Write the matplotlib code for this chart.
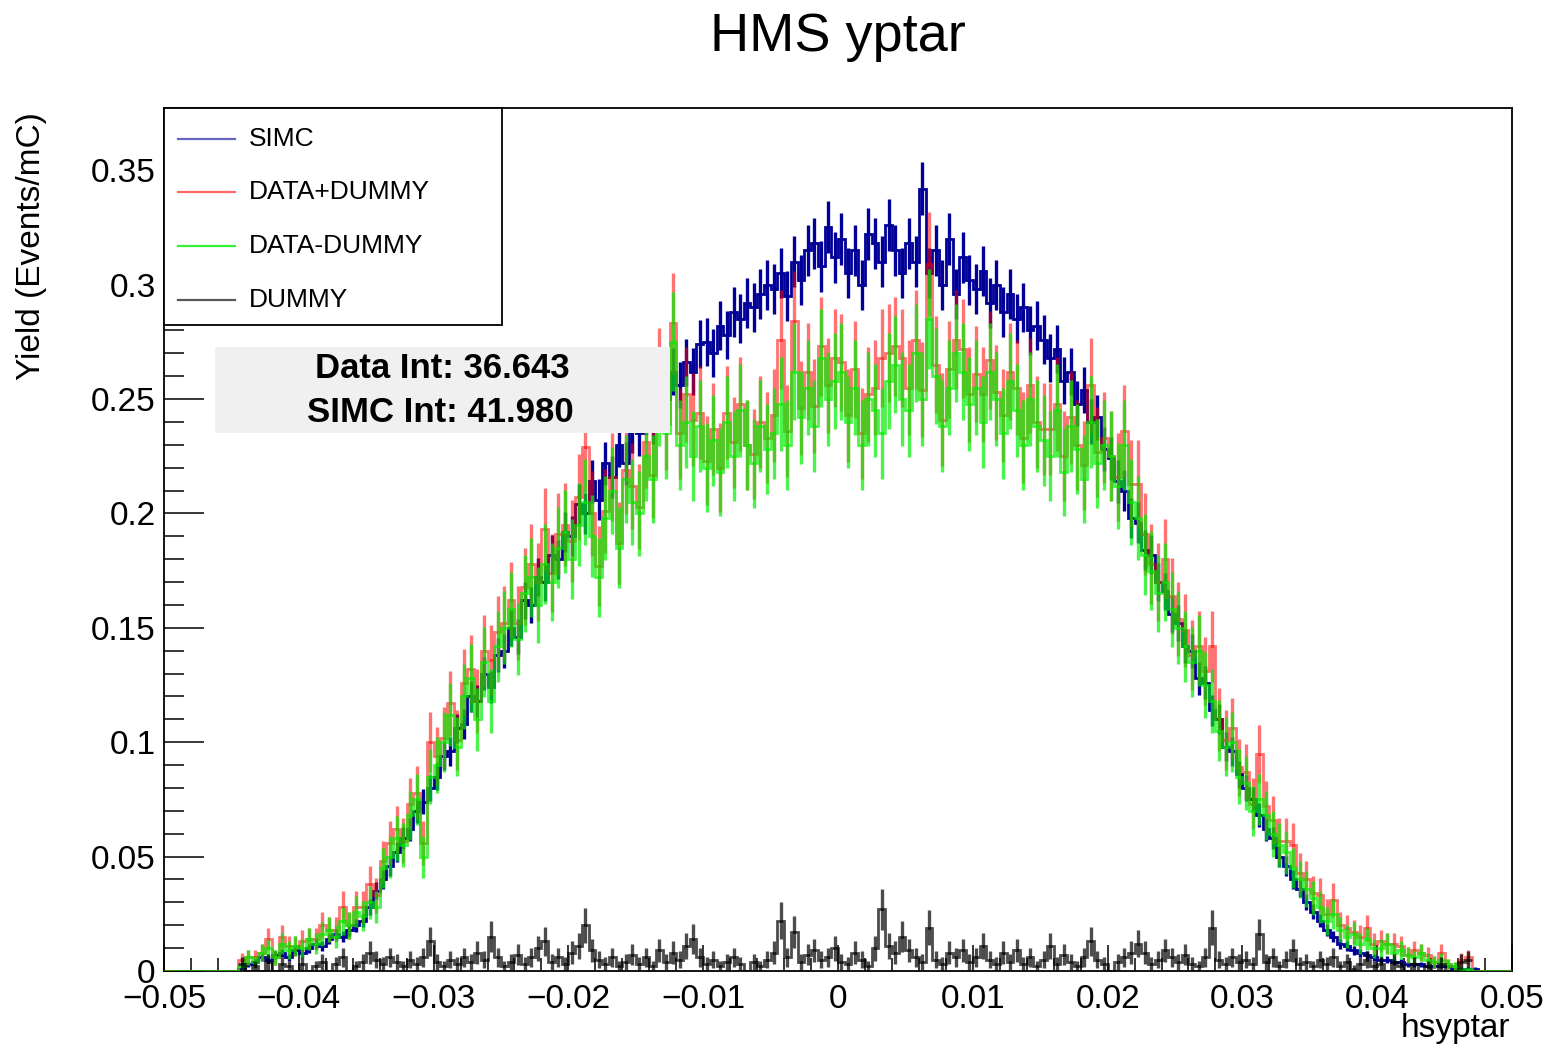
import numpy as np
import matplotlib
matplotlib.use("Agg")
import matplotlib.pyplot as plt
from matplotlib.patches import Rectangle
from matplotlib.lines import Line2D
from matplotlib.ticker import MultipleLocator

plt.rcParams['font.family'] = ['Liberation Sans', 'DejaVu Sans']

# ---------------- data ----------------
x_min, x_max, n_bins = -0.05, 0.05, 200

simc = [
    0, 0, 0, 0, 0, 0, 0, 0, 0, 0,
    0, 0.001, 0.003, 0.004, 0.006, 0.005, 0.007, 0.008, 0.006, 0.009,
    0.008, 0.010, 0.012, 0.011, 0.014, 0.016, 0.015, 0.018, 0.020, 0.022,
    0.028, 0.035, 0.040, 0.046, 0.052, 0.058, 0.062, 0.070, 0.074, 0.080,
    0.085, 0.094, 0.096, 0.106, 0.108, 0.120, 0.118, 0.130, 0.124, 0.138,
    0.140, 0.150, 0.146, 0.162, 0.160, 0.172, 0.170, 0.182, 0.180, 0.192,
    0.190, 0.204, 0.200, 0.214, 0.206, 0.222, 0.216, 0.230, 0.222, 0.236,
    0.235, 0.244, 0.240, 0.254, 0.250, 0.262, 0.256, 0.266, 0.262, 0.274,
    0.275, 0.270, 0.282, 0.278, 0.288, 0.285, 0.292, 0.290, 0.296, 0.300,
    0.298, 0.305, 0.295, 0.310, 0.302, 0.315, 0.318, 0.308, 0.325, 0.312,
    0.320, 0.305, 0.315, 0.300, 0.322, 0.318, 0.310, 0.326, 0.315, 0.305,
    0.318, 0.310, 0.342, 0.305, 0.315, 0.300, 0.320, 0.296, 0.312, 0.302,
    0.298, 0.306, 0.292, 0.300, 0.288, 0.296, 0.285, 0.290, 0.280, 0.282,
    0.276, 0.268, 0.272, 0.258, 0.262, 0.248, 0.254, 0.240, 0.242, 0.228,
    0.224, 0.214, 0.210, 0.198, 0.196, 0.184, 0.182, 0.170, 0.166, 0.156,
    0.152, 0.142, 0.140, 0.128, 0.126, 0.114, 0.110, 0.098, 0.096, 0.086,
    0.080, 0.075, 0.068, 0.062, 0.058, 0.050, 0.046, 0.040, 0.036, 0.030,
    0.026, 0.022, 0.018, 0.015, 0.012, 0.011, 0.009, 0.008, 0.007, 0.006,
    0.005, 0.005, 0.004, 0.004, 0.003, 0.003, 0.003, 0.002, 0.002, 0.002,
    0.002, 0.001, 0.001, 0.001, 0.001, 0, 0, 0, 0, 0,
]

data_plus_dummy = [
    0, 0, 0, 0, 0, 0, 0, 0, 0, 0,
    0, 0.005, 0.006, 0.006, 0.008, 0.014, 0.006, 0.015, 0.011, 0.011,
    0.013, 0.014, 0.014, 0.020, 0.018, 0.018, 0.028, 0.020, 0.028, 0.028,
    0.038, 0.033, 0.048, 0.056, 0.062, 0.057, 0.073, 0.078, 0.056, 0.100,
    0.094, 0.102, 0.117, 0.101, 0.126, 0.132, 0.118, 0.140, 0.136, 0.148,
    0.152, 0.162, 0.152, 0.168, 0.178, 0.170, 0.193, 0.174, 0.191, 0.195,
    0.188, 0.207, 0.229, 0.200, 0.177, 0.201, 0.216, 0.187, 0.219, 0.212,
    0.203, 0.231, 0.217, 0.260, 0.239, 0.283, 0.235, 0.252, 0.241, 0.244,
    0.223, 0.237, 0.220, 0.244, 0.231, 0.248, 0.230, 0.226, 0.240, 0.233,
    0.243, 0.276, 0.236, 0.284, 0.246, 0.262, 0.247, 0.273, 0.256, 0.268,
    0.266, 0.243, 0.263, 0.235, 0.252, 0.255, 0.268, 0.270, 0.273, 0.268,
    0.255, 0.276, 0.254, 0.309, 0.265, 0.241, 0.263, 0.276, 0.272, 0.252,
    0.261, 0.252, 0.267, 0.253, 0.243, 0.262, 0.255, 0.233, 0.256, 0.240,
    0.237, 0.237, 0.248, 0.225, 0.242, 0.230, 0.221, 0.256, 0.227, 0.233,
    0.225, 0.216, 0.236, 0.213, 0.213, 0.191, 0.178, 0.170, 0.180, 0.164,
    0.154, 0.149, 0.138, 0.142, 0.131, 0.142, 0.110, 0.101, 0.106, 0.089,
    0.087, 0.073, 0.095, 0.072, 0.066, 0.057, 0.057, 0.055, 0.043, 0.040,
    0.034, 0.033, 0.025, 0.031, 0.020, 0.019, 0.017, 0.015, 0.019, 0.012,
    0.013, 0.012, 0.012, 0.011, 0.007, 0.009, 0.008, 0.007, 0.004, 0.008,
    0.003, 0.002, 0.005, 0.006, 0, 0, 0, 0, 0, 0,
]

data_minus_dummy = [
    0, 0, 0, 0, 0, 0, 0, 0, 0, 0,
    0, 0.002, 0.006, 0.004, 0.008, 0.010, 0.006, 0.012, 0.009, 0.011,
    0.010, 0.014, 0.012, 0.016, 0.018, 0.015, 0.022, 0.020, 0.026, 0.024,
    0.030, 0.028, 0.045, 0.050, 0.058, 0.055, 0.068, 0.075, 0.050, 0.085,
    0.090, 0.100, 0.112, 0.098, 0.120, 0.128, 0.110, 0.135, 0.118, 0.142,
    0.150, 0.158, 0.145, 0.165, 0.172, 0.160, 0.178, 0.170, 0.185, 0.192,
    0.180, 0.195, 0.205, 0.190, 0.172, 0.198, 0.210, 0.185, 0.215, 0.205,
    0.200, 0.225, 0.215, 0.250, 0.235, 0.275, 0.230, 0.240, 0.225, 0.238,
    0.220, 0.232, 0.218, 0.240, 0.225, 0.245, 0.230, 0.222, 0.238, 0.228,
    0.235, 0.248, 0.230, 0.262, 0.242, 0.255, 0.238, 0.268, 0.250, 0.258,
    0.262, 0.240, 0.255, 0.230, 0.250, 0.245, 0.235, 0.258, 0.265, 0.250,
    0.245, 0.270, 0.250, 0.285, 0.260, 0.238, 0.255, 0.270, 0.262, 0.248,
    0.255, 0.240, 0.262, 0.250, 0.235, 0.258, 0.245, 0.230, 0.250, 0.238,
    0.232, 0.225, 0.245, 0.218, 0.238, 0.228, 0.215, 0.240, 0.222, 0.230,
    0.225, 0.212, 0.230, 0.205, 0.198, 0.182, 0.175, 0.165, 0.170, 0.158,
    0.150, 0.142, 0.135, 0.140, 0.125, 0.118, 0.105, 0.098, 0.100, 0.085,
    0.082, 0.070, 0.075, 0.068, 0.060, 0.055, 0.052, 0.045, 0.040, 0.036,
    0.032, 0.028, 0.022, 0.025, 0.018, 0.015, 0.016, 0.012, 0.014, 0.010,
    0.010, 0.012, 0.008, 0.009, 0.007, 0.006, 0.008, 0.005, 0.004, 0.005,
    0.003, 0.002, 0.001, 0.001, 0, 0, 0, 0, 0, 0,
]

dummy = [
    0, 0, 0, 0, 0, 0, 0, 0, 0, 0,
    0, 0.003, 0, 0.002, 0, 0.004, 0, 0.003, 0.002, 0,
    0.003, 0, 0.002, 0.004, 0, 0.003, 0.006, 0, 0.002, 0.004,
    0.008, 0.005, 0.003, 0.006, 0.004, 0.002, 0.005, 0.003, 0.006, 0.013,
    0.004, 0.002, 0.005, 0.003, 0.006, 0.004, 0.008, 0.005, 0.015, 0.006,
    0.002, 0.004, 0.007, 0.003, 0.006, 0.010, 0.013, 0.004, 0.006, 0.003,
    0.008, 0.011, 0.020, 0.009, 0.005, 0.003, 0.006, 0.002, 0.004, 0.007,
    0.003, 0.006, 0.002, 0.009, 0.004, 0.008, 0.005, 0.011, 0.014, 0.006,
    0.003, 0.005, 0.002, 0.004, 0.006, 0.003, 0.0, 0.004, 0.002, 0.005,
    0.008, 0.022, 0.006, 0.017, 0.004, 0.007, 0.009, 0.005, 0.006, 0.010,
    0.004, 0.003, 0.008, 0.005, 0.002, 0.010, 0.027, 0.011, 0.008, 0.015,
    0.009, 0.006, 0.004, 0.019, 0.005, 0.003, 0.008, 0.006, 0.009, 0.004,
    0.006, 0.011, 0.005, 0.003, 0.008, 0.004, 0.009, 0.003, 0.006, 0.002,
    0.005, 0.011, 0.003, 0.007, 0.004, 0.002, 0.006, 0.013, 0.005, 0.003,
    0.0, 0.004, 0.006, 0.008, 0.012, 0.008, 0.003, 0.005, 0.009, 0.006,
    0.004, 0.007, 0.003, 0.002, 0.006, 0.019, 0.005, 0.003, 0.006, 0.004,
    0.005, 0.003, 0.016, 0.004, 0.006, 0.002, 0.005, 0.009, 0.003, 0.004,
    0.002, 0.005, 0.003, 0.006, 0.002, 0.004, 0.001, 0.003, 0.005, 0.002,
    0.003, 0.0, 0.004, 0.002, 0.0, 0.003, 0.0, 0.002, 0.0, 0.003,
    0.0, 0.0, 0.004, 0.005, 0.0, 0.0, 0.0, 0.0, 0.0, 0.0,
]

# Poisson-like error scale per series (err = sqrt(value * scale))
err_scale_simc = 0.0004
err_scale_data = 0.0017
err_scale_dummy = 0.003

legend_labels = ["SIMC", "DATA+DUMMY", "DATA-DUMMY", "DUMMY"]
xtick_values = [-0.05, -0.04, -0.03, -0.02, -0.01, 0.0, 0.01, 0.02, 0.03, 0.04, 0.05]
xtick_labels = ["\u22120.05", "\u22120.04", "\u22120.03", "\u22120.02", "\u22120.01", "0",
                "0.01", "0.02", "0.03", "0.04", "0.05"]
ytick_values = [0, 0.05, 0.1, 0.15, 0.2, 0.25, 0.3, 0.35]
ytick_labels = ["0", "0.05", "0.1", "0.15", "0.2", "0.25", "0.3", "0.35"]
data_int = 36.643
simc_int = 41.980
title = "HMS yptar"
xlabel = "hsyptar"
ylabel = "Yield (Events/mC)"

# ---------------- layout ----------------
W, H = 1554, 1050
L, R, T, B = 164, 1512, 108, 971
fig = plt.figure(figsize=(W / 100, H / 100), dpi=100)
ax = fig.add_axes([L / W, 1 - B / H, (R - L) / W, (B - T) / H])


def axx(px):
    return (px - L) / (R - L)


def axy(py):
    return (B - py) / (B - T)


edges = np.linspace(x_min, x_max, n_bins + 1)
centers = 0.5 * (edges[:-1] + edges[1:])

col_simc = "#000099"
col_red = "#ff0000"
col_green = "#00ee00"
col_dummy = "#000000"


def draw_hist(vals, color, alpha, scale, lw, z, trim=False):
    v = np.asarray(vals, dtype=float)
    e = edges
    c = centers
    if trim:
        nz = np.nonzero(v)[0]
        lo, hi = nz[0], nz[-1] + 1
        v = v[lo:hi]
        e = edges[lo:hi + 1]
        c = centers[lo:hi]
    err = np.sqrt(v * scale)
    ax.stairs(v, e, color=color, alpha=alpha, lw=lw, zorder=z, baseline=None)
    m = v > 0
    ax.errorbar(c[m], v[m], yerr=err[m], fmt="none", ecolor=color, alpha=alpha,
                elinewidth=lw + 0.4, capsize=0, zorder=z)


draw_hist(simc, col_simc, 1.0, err_scale_simc, 2.0, 2)
draw_hist(data_plus_dummy, col_red, 0.55, err_scale_data, 2.0, 3)
draw_hist(data_minus_dummy, col_green, 0.7, err_scale_data, 2.0, 4)
draw_hist(dummy, col_dummy, 0.7, err_scale_dummy, 2.0, 5, trim=True)

ax.set_xlim(x_min, x_max)
ax.set_ylim(0, (B - T) / 2288.0)

ax.set_xticks(xtick_values)
ax.set_xticklabels(xtick_labels)
ax.set_yticks(ytick_values)
ax.set_yticklabels(ytick_labels)
ax.xaxis.set_minor_locator(MultipleLocator(0.002))
ax.yaxis.set_minor_locator(MultipleLocator(0.01))
ax.tick_params(which="both", direction="in", top=False, right=False, width=1.1, color="black")
ax.tick_params(axis="x", which="major", length=18.7, pad=9, labelsize=24)
ax.tick_params(axis="x", which="minor", length=9.4)
ax.tick_params(axis="y", which="major", length=28.8, pad=6, labelsize=24)
ax.tick_params(axis="y", which="minor", length=14.4)
for s in ax.spines.values():
    s.set_linewidth(1.3)

# title and axis labels
fig.text(838 / W, 1 - 37 / H, title, ha="center", va="center", fontsize=39)
fig.text(32 / W, 1 - 246 / H, ylabel, rotation=90, ha="center", va="center", fontsize=24)
fig.text(1510 / W, 1 - 1028 / H, xlabel, ha="right", va="center", fontsize=24)

# legend box
ax.add_patch(Rectangle((axx(164), axy(325)), axx(502) - axx(164), axy(108) - axy(325),
                       transform=ax.transAxes, facecolor="white", edgecolor="black",
                       lw=1.3, zorder=20, clip_on=False))
leg_colors = [(col_simc, 0.6), (col_red, 0.6), (col_green, 0.8), (col_dummy, 0.65)]
leg_y = [139, 192, 246, 300]
for lab, (c, a), py in zip(legend_labels, leg_colors, leg_y):
    ax.add_line(Line2D([axx(178), axx(235)], [axy(py), axy(py)], transform=ax.transAxes,
                       color=c, alpha=a, lw=1.6, zorder=21, clip_on=False))
    ax.text(axx(249), axy(py), lab, transform=ax.transAxes, ha="left", va="center",
            fontsize=19, zorder=21)

# integral box
ax.add_patch(Rectangle((axx(215), axy(433)), axx(670) - axx(215), axy(347) - axy(433),
                       transform=ax.transAxes, facecolor="#f0f0f0", edgecolor="none",
                       zorder=19))
ax.text(axx(442), axy(369), f"Data Int: {data_int:.3f}", transform=ax.transAxes,
        ha="center", va="center", fontsize=25, fontweight="bold", zorder=21)
ax.text(axx(440), axy(412), f"SIMC Int: {simc_int:.3f}", transform=ax.transAxes,
        ha="center", va="center", fontsize=25, fontweight="bold", zorder=21)

fig.savefig("out.png", dpi=100)
